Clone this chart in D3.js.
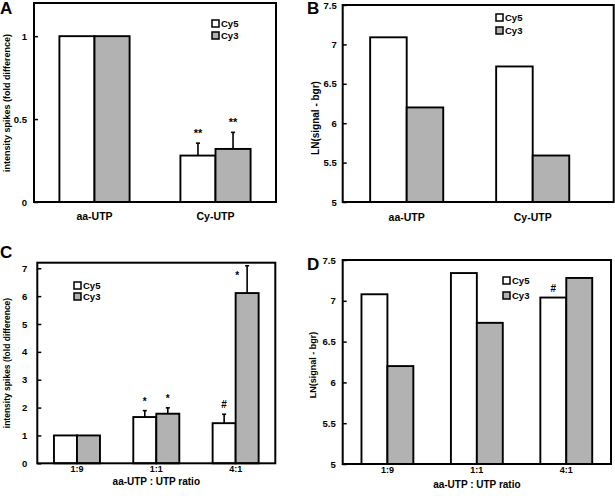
<!DOCTYPE html>
<html>
<head>
<meta charset="utf-8">
<script src="https://cdn.jsdelivr.net/npm/d3@7"></script>
<style>
  body { margin: 0; background: #fff; }
  text { font-family: "Liberation Sans", Arial, sans-serif; font-weight: bold; fill: #000; }
</style>
</head>
<body>
<svg id="chart" width="615" height="496"></svg>
<script>
// series and categories
const series = ["Cy5", "Cy3"];
const labelCategories = ["aa-UTP", "Cy-UTP"];
const ratioCategories = ["1:9", "1:1", "4:1"];

// panel A: fold difference
const aCy5 = [1, 0.28];
const aCy3 = [1, 0.32];
const aCy5Err = [0, 0.075];
const aCy3Err = [0, 0.10];
const aCy5Marks = ["", "**"];
const aCy3Marks = ["", "**"];
const aTicks = [0, 0.5, 1];

// panel B: LN(signal - bgr)
const bCy5 = [7.09, 6.72];
const bCy3 = [6.20, 5.59];
const lnTicks = [5, 5.5, 6, 6.5, 7, 7.5];

// panel C: fold difference by ratio
const cCy5 = [1, 1.66, 1.44];
const cCy3 = [1, 1.78, 6.11];
const cCy5Err = [0, 0.23, 0.32];
const cCy3Err = [0, 0.21, 0.98];
const cCy5Marks = ["", "*", "#"];
const cCy3Marks = ["", "*", "*"];
const cTicks = [0, 1, 2, 3, 4, 5, 6, 7];

// panel D: LN by ratio
const dCy5 = [7.08, 7.34, 7.04];
const dCy3 = [6.20, 6.73, 7.28];
const dCy5Marks = ["", "", "#"];

const fills = { Cy5: "#ffffff", Cy3: "#b2b2b2" };
const svg = d3.select("#chart");

function panel(p) {
    var g = svg.append("g");
    var x = d3.scaleBand().domain(p.cats).range(p.xr);
    var y = d3.scaleLinear().domain(p.yd).range([p.box[3], p.box[1]]);
    var bw = x.bandwidth() * 0.58 / 2;

    var rows = [];
    p.cats.forEach((c, i) => {
        series.forEach((s, j) => {
            rows.push({
                cat: c, s: s, j: j,
                v: p.vals[j][i],
                e: p.errs ? p.errs[j][i] : 0,
                m: p.marks && p.marks[j] ? p.marks[j][i] : "",
            });
        });
    });
    var bx = (d) => x(d.cat) + x.bandwidth() / 2 - bw + d.j * bw;

    // error bars (upper only)
    var eb = g.selectAll("g.err").data(rows.filter((d) => d.e > 0)).enter().append("g");
    eb.append("line")
        .attr("x1", (d) => bx(d) + bw / 2).attr("x2", (d) => bx(d) + bw / 2)
        .attr("y1", (d) => y(d.v)).attr("y2", (d) => y(d.v + d.e))
        .attr("stroke", "#000").attr("stroke-width", 1.6);
    eb.append("line")
        .attr("x1", (d) => bx(d) + bw / 2 - 2).attr("x2", (d) => bx(d) + bw / 2 + 2)
        .attr("y1", (d) => y(d.v + d.e)).attr("y2", (d) => y(d.v + d.e))
        .attr("stroke", "#000").attr("stroke-width", 1.6);

    g.selectAll("rect.bar")
        .data(rows)
        .enter()
        .append("rect")
        .attr("x", bx)
        .attr("width", bw)
        .attr("y", (d) => y(d.v))
        .attr("height", (d) => y(p.yd[0]) - y(d.v))
        .attr("fill", (d) => fills[d.s])
        .attr("stroke", "#000")
        .attr("stroke-width", 1.9);

    // significance marks
    g.selectAll("text.mark")
        .data(rows.filter((d) => d.m))
        .enter()
        .append("text")
        .attr("text-anchor", "middle")
        .style("font-size", p.markSize + "px")
        .each(function (d) {
            var cx = bx(d) + bw / 2,
                by = y(d.v + d.e) - 6;
            if (by - 8 < p.box[1]) {
                // no room above the error bar: sit beside it
                by = y(d.v) - 14;
                cx -= 10;
            }
            d3.select(this).attr("x", cx).attr("y", by);
        })
        .text((d) => d.m);

    // frame
    g.append("rect")
        .attr("x", p.box[0]).attr("y", p.box[1])
        .attr("width", p.box[2] - p.box[0]).attr("height", p.box[3] - p.box[1])
        .attr("fill", "none").attr("stroke", "#000").attr("stroke-width", 2);

    // y axis
    var ya = g.append("g")
        .attr("transform", `translate(${p.box[0]},0)`)
        .call(d3.axisLeft(y).tickValues(p.ticks).tickSize(-4).tickPadding(p.tickPad).tickFormat(d3.format("")));
    ya.select(".domain").remove();
    ya.selectAll("line").attr("stroke-width", 1.5);
    ya.selectAll("text").style("font-size", "9.5px").attr("font-family", null);

    // x labels
    g.selectAll("text.xl")
        .data(p.cats)
        .enter()
        .append("text")
        .attr("text-anchor", "middle")
        .attr("x", (d) => x(d) + x.bandwidth() / 2)
        .attr("y", p.box[3] + p.xlabDy)
        .style("font-size", p.xlabSize + "px")
        .text((d) => d);

    if (p.xtitle) {
        g.append("text")
            .attr("text-anchor", "middle")
            .attr("x", (p.box[0] + p.box[2]) / 2)
            .attr("y", p.box[3] + p.xtitleDy)
            .style("font-size", "10px")
            .text(p.xtitle);
    }

    g.append("text")
        .attr("text-anchor", "middle")
        .attr("transform", `translate(${p.ytitleX},${p.ytitleY}) rotate(-90)`)
        .attr("dy", "0.35em")
        .style("font-size", p.ytitleSize + "px")
        .text(p.ytitle);

    // legend
    var lg = g.append("g").attr("transform", `translate(${p.legend[0]},${p.legend[1]})`);
    series.forEach((s, j) => {
        lg.append("rect")
            .attr("x", 0).attr("y", j * p.legend[2])
            .attr("width", 7).attr("height", 7)
            .attr("fill", fills[s]).attr("stroke", "#000").attr("stroke-width", 1.5);
        lg.append("text")
            .attr("x", 9).attr("y", j * p.legend[2] + 7)
            .style("font-size", "9.5px")
            .text(s);
    });

    g.append("text")
        .attr("x", p.letter[0]).attr("y", p.letter[1])
        .style("font-size", "17px")
        .text(p.name);
}

panel({
    name: "A", letter: [0, 14],
    cats: labelCategories, vals: [aCy5, aCy3], errs: [aCy5Err, aCy3Err], marks: [aCy5Marks, aCy3Marks],
    box: [34, 3, 276, 202], xr: [34, 276], yd: [0, 1.2], ticks: aTicks, tickPad: 7,
    xlabDy: 18, xlabSize: 10.5, markSize: 11,
    ytitle: "intensity spikes (fold difference)", ytitleX: 7, ytitleY: 103, ytitleSize: 9,
    legend: [212, 20, 12],
});

panel({
    name: "B", letter: [307, 14],
    cats: labelCategories, vals: [bCy5, bCy3],
    box: [342.7, 5, 613.7, 202], xr: [343.7, 595.7], yd: [5, 7.5], ticks: lnTicks, tickPad: 6,
    xlabDy: 19, xlabSize: 10.5, markSize: 11,
    ytitle: "LN(signal - bgr)", ytitleX: 315, ytitleY: 118, ytitleSize: 10,
    legend: [496, 14, 13],
});

panel({
    name: "C", letter: [0, 258],
    cats: ratioCategories, vals: [cCy5, cCy3], errs: [cCy5Err, cCy3Err], marks: [cCy5Marks, cCy3Marks],
    box: [37.3, 262.7, 275.3, 463.3], xr: [37.3, 275.3], yd: [0, 7.2], ticks: cTicks, tickPad: 10,
    xlabDy: 9, xlabSize: 9, markSize: 10,
    xtitle: "aa-UTP : UTP ratio", xtitleDy: 22,
    ytitle: "intensity spikes (fold difference)", ytitleX: 7, ytitleY: 363, ytitleSize: 8.5,
    legend: [74, 282, 11],
});

panel({
    name: "D", letter: [307, 270],
    cats: ratioCategories, vals: [dCy5, dCy3], marks: [dCy5Marks, null],
    box: [342.7, 260, 611, 464], xr: [342.7, 611], yd: [5, 7.5], ticks: lnTicks, tickPad: 7,
    xlabDy: 9, xlabSize: 9, markSize: 10,
    xtitle: "aa-UTP : UTP ratio", xtitleDy: 24,
    ytitle: "LN(signal - bgr)", ytitleX: 313, ytitleY: 365, ytitleSize: 9,
    legend: [503, 277, 15],
});
</script>
</body>
</html>
